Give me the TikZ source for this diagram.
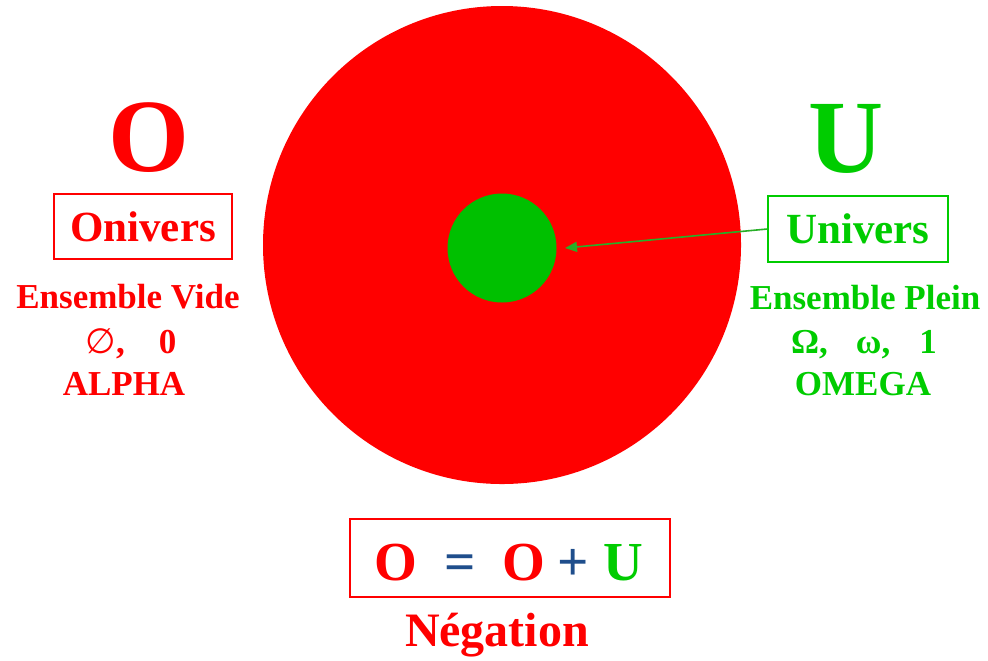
\documentclass[tikz,border=0pt]{standalone}
\usepackage{fontspec}
\setmainfont{Liberation Serif}
\newfontfamily\djv{DejaVu Sans}
\usetikzlibrary{arrows.meta}
\definecolor{myred}{RGB}{255,0,0}
\definecolor{mygreen}{RGB}{0,204,0}
\definecolor{circgreen}{RGB}{0,192,0}
\definecolor{arrowgreen}{RGB}{40,175,40}
\definecolor{myblue}{RGB}{31,78,140}
\begin{document}
\begin{tikzpicture}[x=0.5pt,y=-0.5pt,
  basetxt/.style={inner sep=0pt, anchor=base},
  bigletter/.style={basetxt, font=\bfseries\fontsize{52}{60}\selectfont},
  linetxt/.style={basetxt, font=\bfseries\fontsize{17.5}{20}\selectfont},
  namebox/.style={draw, line width=0.75pt, inner sep=0pt, font=\bfseries\fontsize{21.5}{24}\selectfont},
  formula/.style={basetxt, font=\bfseries\fontsize{27.5}{30}\selectfont},
  pointer/.style={draw=arrowgreen, line width=0.8pt, -{Triangle[length=6pt,width=5pt]}}
]
\useasboundingbox (0,0) rectangle (988,660);
\fill[white] (0,0) rectangle (988,660);
% circles
\node[circle, fill=myred, inner sep=0pt, minimum size=239pt] (bigc) at (502,245) {};
\node[circle, fill=circgreen, inner sep=0pt, minimum size=54.5pt] (gc) at (502,248) {};
% big letters
\node[bigletter, text=myred] (bigO) at (149,171) {O};
\node[bigletter, text=mygreen] (bigU) at (846,172) {U};
% name boxes
\node[namebox, draw=myred, text=myred, minimum width=89pt, minimum height=32.5pt] (oniv) at (143,226.5) {Onivers};
\node[namebox, draw=mygreen, text=mygreen, minimum width=90pt, minimum height=33pt] (univ) at (858,229) {Univers};
% left texts
\node[linetxt, text=myred] (ev) at (128,308) {Ensemble Vide};
\node[linetxt, text=myred] (ez) at (131,353) {{\mdseries\djv ∅},\hspace{17pt}0};
\node[linetxt, text=myred] (alpha) at (124,395) {ALPHA};
% right texts
\node[linetxt, text=mygreen] (ep) at (865,309) {Ensemble Plein};
\node[linetxt, text=mygreen] (om) at (864,353) {Ω,\hspace{14pt}ω,\hspace{14.5pt}1};
\node[linetxt, text=mygreen] (omega) at (863,395) {OMEGA};
% arrow
\coordinate (tip) at (565,248);
\draw[pointer] (univ.west) -- (tip);
% formula box
\node[draw=myred, line width=0.75pt, minimum width=160pt, minimum height=39pt, inner sep=0pt] (fbox) at (510,558) {};
\node[formula, text=myred] (f1) at (396,580) {O};
\node[formula, text=myblue] (f2) at (460,580) {=};
\node[formula, text=myred] (f3) at (523.5,580) {O};
\node[formula, text=myblue] (f4) at (573,580) {+};
\node[formula, text=mygreen] (f5) at (623.5,580) {U};
\node[basetxt, text=myred, font=\bfseries\fontsize{24}{28}\selectfont] (neg) at (497,646) {Négation};
\end{tikzpicture}
\end{document}
